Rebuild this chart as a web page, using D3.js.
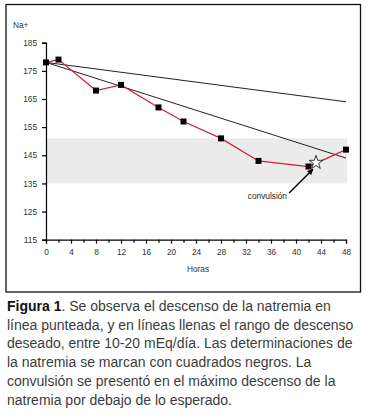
<!DOCTYPE html>
<html><head><meta charset="utf-8">
<script src="https://cdn.jsdelivr.net/npm/d3@7"></script>
<style>
html,body{margin:0;padding:0;background:#fff;}
svg{display:block;}
</style></head>
<body>
<svg id="chart" width="367" height="418"></svg>
<script>
// Data
const hours = [0, 2, 8, 12, 18, 22, 28, 34, 42, 48];
const natremia = [178, 179, 168, 170, 162, 157, 151, 143, 141, 147];
const rangeHours = [0, 48];
const rangeSlow = [178, 164];
const rangeFast = [178, 144];
const band = [135, 151];
const seizure = [43.2, 142.4];
const yTicks = [115, 125, 135, 145, 155, 165, 175, 185];
const xTicks = [0, 4, 8, 12, 16, 20, 24, 28, 32, 36, 40, 44, 48];
const xMinorTicks = [2, 6, 10, 14, 18, 22, 26, 30, 34, 38, 42, 46];
const captionBold = "Figura 1";
const captionLines = [
  ". Se observa el descenso de la natremia en",
  "línea punteada, y en líneas llenas el rango de descenso",
  "deseado, entre 10-20 mEq/día. Las determinaciones de",
  "la natremia se marcan con cuadrados negros. La",
  "convulsión se presentó en el máximo descenso de la",
  "natremia por debajo de lo esperado."
];

const svg = d3.select("#chart");
const font = "'Liberation Sans', Arial, Helvetica, sans-serif";

// frame
svg.append("rect").attr("x", 6).attr("y", 4.5).attr("width", 354.5).attr("height", 287.5)
  .attr("fill", "none").attr("stroke", "#111").attr("stroke-width", 1.3);

const x = d3.scaleLinear().domain([0, 48]).range([46, 346]);
const y = d3.scaleLinear().domain([115, 185]).range([239.7, 42.7]);

// band
svg.append("rect")
  .attr("x", x(0)).attr("width", x(48) - x(0) + 1)
  .attr("y", y(band[1])).attr("height", y(band[0]) - y(band[1]))
  .attr("fill", "#ebebeb");

// axes
const yAxis = d3.axisLeft(y).tickValues(yTicks).tickSize(4).tickPadding(5).tickFormat(d3.format("d"));
const gy = svg.append("g").attr("transform", `translate(${x(0)},0)`).call(yAxis);
const xAxis = d3.axisBottom(x).tickValues(xTicks).tickSize(4).tickPadding(5).tickFormat(d3.format("d"));
const gx = svg.append("g").attr("transform", `translate(0,${y(115)})`).call(xAxis);
const xAxisMinor = d3.axisBottom(x).tickValues(xMinorTicks).tickSize(3).tickFormat("");
const gxm = svg.append("g").attr("transform", `translate(0,${y(115)})`).call(xAxisMinor);
gxm.select(".domain").remove();
[gx, gy, gxm].forEach(g => {
  g.selectAll("path.domain").attr("stroke", "#000").attr("stroke-width", 1.2);
  g.selectAll(".tick line").attr("stroke", "#000").attr("stroke-width", 1.2);
  g.selectAll("text").attr("font-family", font).attr("font-size", 8.3).attr("fill", "#333");
});

svg.append("text").attr("x", 13).attr("y", 28).text("Na+")
  .attr("font-family", font).attr("font-size", 8.3).attr("fill", "#333");
svg.append("text").attr("x", 198).attr("y", 272).attr("text-anchor", "middle").text("Horas")
  .attr("font-family", font).attr("font-size", 8.3).attr("fill", "#333");

// range lines
const line = d3.line().x(d => x(d[0])).y(d => y(d[1]));
[rangeSlow, rangeFast].forEach(r => {
  svg.append("path").attr("d", line(rangeHours.map((h, i) => [h, r[i]])))
    .attr("fill", "none").attr("stroke", "#222").attr("stroke-width", 1);
});

// natremia line
const pts = hours.map((h, i) => [h, natremia[i]]);
svg.append("path").attr("d", line(pts)).attr("fill", "none")
  .attr("stroke", "#cc1f3a").attr("stroke-width", 1.2);

// squares
svg.selectAll("rect.pt").data(pts).enter().append("rect").attr("class", "pt")
  .attr("x", d => x(d[0]) - 3).attr("y", d => y(d[1]) - 3)
  .attr("width", 6).attr("height", 6).attr("fill", "#000");

// star
const star = d3.symbol().type(d3.symbolStar).size(60);
svg.append("path").attr("d", star())
  .attr("transform", `translate(${x(seizure[0])},${y(seizure[1])})`)
  .attr("fill", "#fff").attr("stroke", "#222").attr("stroke-width", 0.9);

// arrow
const defs = svg.append("defs");
defs.append("marker").attr("id", "ah").attr("viewBox", "0 0 10 10").attr("refX", 9).attr("refY", 5)
  .attr("markerWidth", 7).attr("markerHeight", 6).attr("orient", "auto").attr("markerUnits", "userSpaceOnUse")
  .append("path").attr("d", "M0,0 L10,5 L0,10 Z").attr("fill", "#000");
svg.append("line").attr("x1", x(38.9)).attr("y1", y(131.6)).attr("x2", x(42.7)).attr("y2", y(140))
  .attr("stroke", "#000").attr("stroke-width", 1.5).attr("marker-end", "url(#ah)");
svg.append("text").attr("x", 287).attr("y", 199).attr("text-anchor", "end").text("convulsión")
  .attr("font-family", font).attr("font-size", 8.3).attr("fill", "#222");

// caption
const cap = svg.append("g").attr("font-family", font).attr("font-size", 14).attr("fill", "#3c3c3c");
captionLines.forEach((l, i) => {
  const t = cap.append("text").attr("x", 7).attr("y", 311 + i * 18.7);
  if (i === 0) {
    t.append("tspan").attr("font-weight", "bold").attr("fill", "#111").text(captionBold);
  }
  t.append("tspan").text(l);
});
</script>
</body></html>
